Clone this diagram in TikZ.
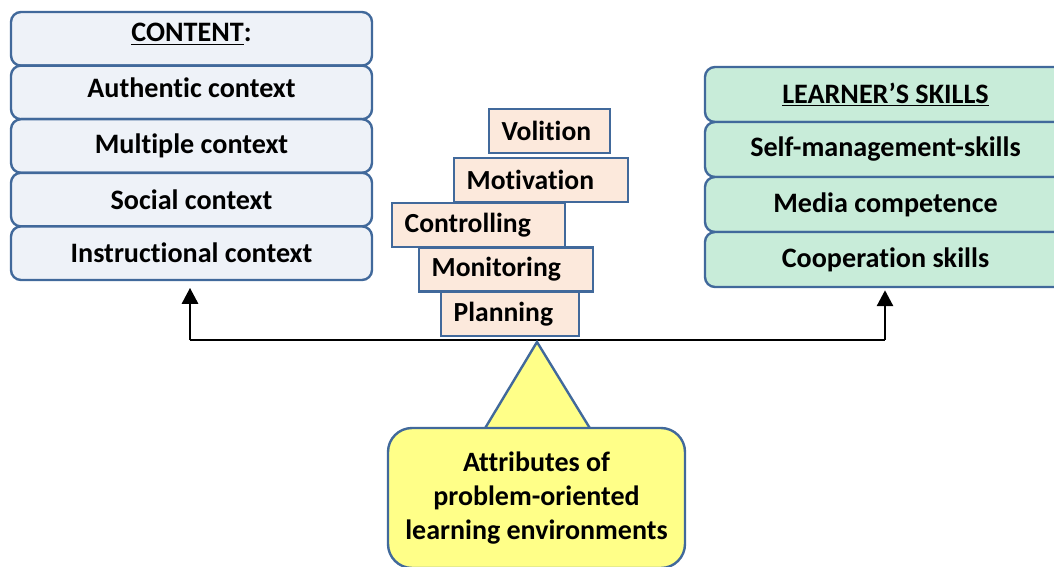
\documentclass[tikz,border=0pt]{standalone}
\usepackage{fontspec}
\setmainfont{Carlito}[Ligatures={NoCommon}]
\usetikzlibrary{arrows.meta}
\definecolor{bord}{RGB}{65,105,155}
\definecolor{lfill}{RGB}{238,242,248}
\definecolor{rfill}{RGB}{200,236,217}
\definecolor{mfill}{RGB}{252,233,220}
\definecolor{yfill}{RGB}{255,255,136}
\tikzset{
  lbox/.style={draw=bord, line width=1.8pt, fill=lfill, rounded corners=7.5pt,
    minimum width=270.75pt, minimum height=40.2pt, inner sep=0pt,
    font=\fontsize{21.1pt}{25pt}\selectfont\bfseries},
  rbox/.style={lbox, fill=rfill, minimum height=41.25pt},
  mbox/.style={draw=bord, line width=1.8pt, fill=mfill, minimum height=33pt,
    inner ysep=0pt, inner xsep=9.5pt, align=left,
    font=\fontsize{20.7pt}{24pt}\selectfont\bfseries},
  conn/.style={line width=2.2pt, -{Triangle[length=12pt,width=12pt]}},
  ybox/.style={draw=bord, line width=1.8pt, fill=yfill, rounded corners=18pt,
    minimum width=222.75pt, minimum height=105pt, inner sep=0pt, align=center,
    font=\fontsize{21pt}{25.5pt}\selectfont\bfseries},
}
\begin{document}
\begin{tikzpicture}[x=0.75pt, y=-0.75pt]
\useasboundingbox (0,0) rectangle (1054,567);
\clip (0,0) rectangle (1054,567);
% left stack
\node[lbox] (c0) at (191.5,38.8) {\raisebox{3.5pt}[\height][\depth]{\underline{CONTENT}:}};
\node[lbox] (c1) at (191.5,92.4) {\raisebox{3.5pt}[\height][\depth]{Authentic context}};
\node[lbox] (c2) at (191.5,146) {Multiple context};
\node[lbox] (c3) at (191.5,199.6) {Social context};
\node[lbox] (c4) at (191.5,253.2) {Instructional context};
% right stack
\node[rbox] (s0) at (885.5,94.5) {\underline{LEARNER’S SKILLS}};
\node[rbox] (s1) at (885.5,149.5) {Self-management-skills};
\node[rbox] (s2) at (885.5,204.5) {Media competence};
\node[rbox] (s3) at (885.5,259.5) {Cooperation skills};
% middle stack
\node[mbox, text width=71.75pt] (m1) at (549.5,131) {Volition};
\node[mbox, text width=111.5pt] (m2) at (541,180) {Motivation};
\node[mbox, text width=110.75pt] (m3) at (478.5,225) {Controlling};
\node[mbox, text width=111.5pt] (m4) at (506,269.5) {Monitoring};
\node[mbox, text width=84.5pt] (m5) at (510,314) {Planning};
% beam and arrows
\coordinate (bl) at (190,340);
\coordinate (br) at (885,340);
\draw[line width=2.2pt] (bl) -- (br);
\draw[conn] (bl) -- ([yshift=-5pt]c4.south -| bl);
\draw[conn] (br) -- ([yshift=-1.5pt]s3.south -| br);
% triangle and base box
\draw[draw=bord, line width=1.8pt, fill=yfill, line join=miter]
  (537,342) -- (591,430) -- (484,430) -- cycle;
\node[ybox] (att) at (536.5,498) {Attributes of\\problem-oriented\\learning environments};
\end{tikzpicture}
\end{document}
